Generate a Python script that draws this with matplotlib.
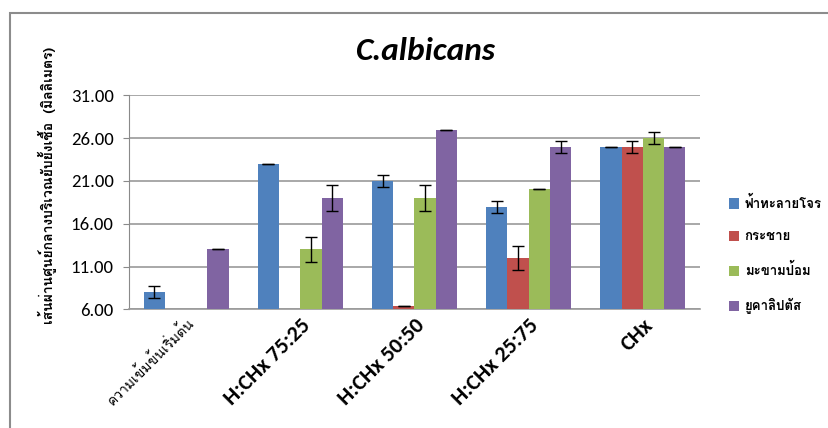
import numpy as np
import matplotlib
matplotlib.use("Agg")
import matplotlib.pyplot as plt
from matplotlib.patches import Patch, Rectangle

# ข้อมูล: เส้นผ่านศูนย์กลางบริเวณยับยั้งเชื้อ (มม.) ต่อสารสกัดแต่ละชนิด
groups = ["ความเข้มข้นเริ่มต้น", "H:CHx 75:25", "H:CHx 50:50", "H:CHx 25:75", "CHx"]
series = ["ฟ้าทะลายโจร", "กระชาย", "มะขามป้อม", "ยูคาลิปตัส"]

fah = [8.0, 23.0, 21.0, 18.0, 25.0]
fah_err = [0.7, 0.0, 0.7, 0.7, 0.0]
krachai = [np.nan, np.nan, 6.4, 12.0, 25.0]
krachai_err = [np.nan, np.nan, 0.0, 1.4, 0.7]
makham = [np.nan, 13.0, 19.0, 20.0, 26.0]
makham_err = [np.nan, 1.5, 1.5, 0.0, 0.7]
eucal = [13.0, 19.0, 27.0, 25.0, 25.0]
eucal_err = [0.0, 1.5, 0.0, 0.7, 0.0]

yticks = [6, 11, 16, 21, 26, 31]

colors = ["#4F81BD", "#C0504D", "#9BBB59", "#8064A2"]
latin = ["Carlito", "DejaVu Sans"]
thai = ["Loma", "DejaVu Sans"]

fig = plt.figure(figsize=(8.29, 4.28), dpi=100)
ax = fig.add_axes([0.1556, 0.2773, 0.6888, 0.5])

x = np.arange(len(groups))
w = 0.186
vals = [fah, krachai, makham, eucal]
errs = [fah_err, krachai_err, makham_err, eucal_err]
for i in range(4):
    ax.bar(x + (i - 1.5) * w, vals[i], w, color=colors[i], zorder=3,
           yerr=errs[i], capsize=4,
           error_kw=dict(ecolor="black", elinewidth=1, capthick=1, zorder=4))

ax.set_xlim(-0.5, 4.5)
ax.set_ylim(6, 31)
ax.set_yticks(yticks)
ax.set_yticklabels(["%.2f" % t for t in yticks], family=latin, fontsize=13.5)
ax.yaxis.grid(True, color="#9a9a9a", linewidth=1.2, zorder=0)
ax.set_axisbelow(True)
for s in ["top", "right"]:
    ax.spines[s].set_visible(False)
ax.spines["left"].set_color("#8a8a8a")
ax.spines["bottom"].set_color("#9a9a9a")
ax.spines["bottom"].set_linewidth(1.2)
ax.tick_params(axis="y", direction="out", length=4, color="#8a8a8a", pad=7)
ax.tick_params(axis="x", length=0, pad=4)

ax.set_xticks(x)
ax.set_xticklabels(groups, rotation=45, ha="right", va="top",
                   rotation_mode="anchor")
labels = ax.get_xticklabels()
labels[0].set_family(thai)
labels[0].set_fontsize(10)
for lab in labels[1:]:
    lab.set_family(latin)
    lab.set_fontsize(16)
    lab.set_fontweight("bold")

fig.text(0.513, 0.88, "C.albicans", family=latin, fontsize=24,
         fontweight="bold", style="italic", ha="center", va="center")

fig.text(0.057, 0.567, "เส้นผ่านศูนย์กลางบริเวณยับยั้งเชื้อ  (มิลลิเมตร)",
         family=thai, fontsize=10, fontweight="bold", rotation=90,
         ha="center", va="center")

handles = [Patch(facecolor=c, edgecolor="none") for c in colors]
fig.legend(handles, series, loc="center left", bbox_to_anchor=(0.868, 0.404),
           frameon=False, prop=dict(family=thai, size=9.5, weight="bold"),
           handlelength=0.8, handleheight=0.8, handletextpad=0.4,
           labelspacing=1.5, borderpad=0.2)

# กรอบรอบพื้นที่แผนภูมิ
fig.add_artist(Rectangle((10 / 829, -0.2), 1.2, 1.2 - 13 / 428,
                         transform=fig.transFigure, fill=False,
                         edgecolor="#8c8c8c", linewidth=1.5, clip_on=False))

fig.savefig("out.png", dpi=100)
